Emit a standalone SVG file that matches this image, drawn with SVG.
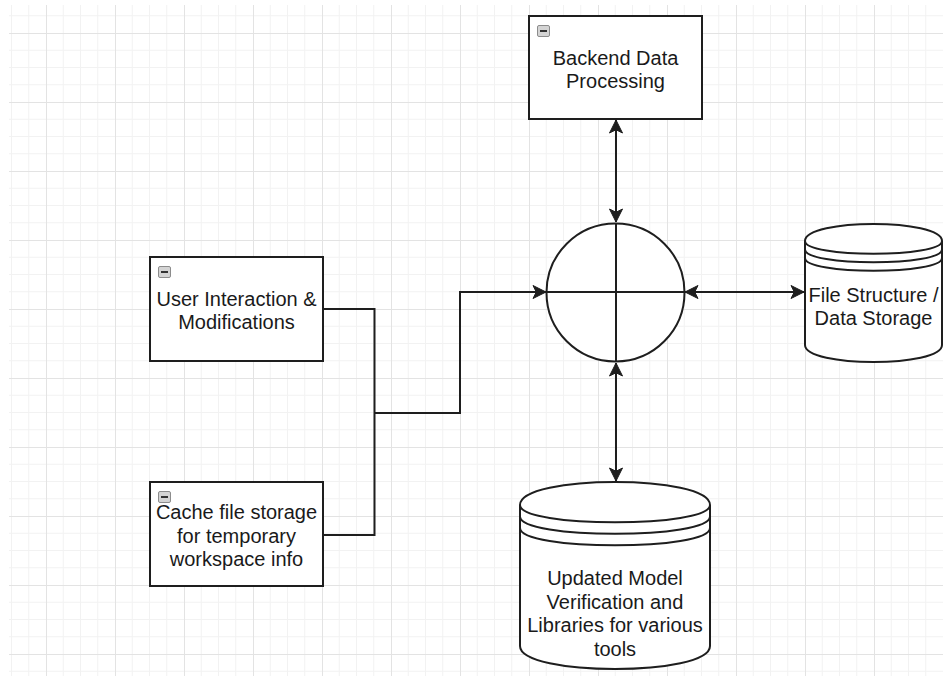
<svg xmlns="http://www.w3.org/2000/svg" width="943" height="676" viewBox="0 0 943 676">
  <style>
    .box { fill: #ffffff; stroke: #1e1e1e; stroke-width: 2; }
    .shape { fill: #ffffff; stroke: #1e1e1e; stroke-width: 2; }
    .inner { fill: none; stroke: #1e1e1e; stroke-width: 2; }
    .edge { fill: none; stroke: #1e1e1e; stroke-width: 2; }
    .lbl { font-family: "Liberation Sans", Arial, Helvetica, sans-serif; font-size: 20px; fill: #1a1a1a; text-anchor: middle; }
    .icon { fill: #d4d4d4; stroke: #8c8c8c; stroke-width: 1; }
    .iconbar { stroke: #333333; stroke-width: 2; }
  </style>
  <defs>
    <pattern id="grid" patternUnits="userSpaceOnUse" x="-23" y="-36" width="69" height="69">
      <path d="M17.25,0 V69 M34.5,0 V69 M51.75,0 V69 M0,17.25 H69 M0,34.5 H69 M0,51.75 H69" stroke="#f2f2f2" stroke-width="1" fill="none"/>
      <path d="M0.5,0 V69 M0,0.5 H69" stroke="#e3e3e3" stroke-width="1" fill="none"/>
    </pattern>
    <marker id="arrow" markerUnits="userSpaceOnUse" viewBox="-14 -8 16 16" refX="0" refY="0" markerWidth="16" markerHeight="16" orient="auto-start-reverse">
      <path d="M0,0 L-13,-6.5 L-9.75,0 L-13,6.5 Z" fill="#1e1e1e" stroke="#1e1e1e" stroke-width="1" stroke-linejoin="miter"/>
    </marker>
  </defs>

  <rect x="0" y="0" width="943" height="676" fill="#ffffff"/>
  <rect x="9" y="5" width="934" height="671" fill="url(#grid)"/>

  <g id="connectors">
    <line class="edge" x1="616" y1="120" x2="616" y2="222" marker-start="url(#arrow)" marker-end="url(#arrow)"/>
    <line class="edge" x1="685" y1="292" x2="804" y2="292" marker-start="url(#arrow)" marker-end="url(#arrow)"/>
    <line class="edge" x1="616" y1="363" x2="616" y2="481" marker-start="url(#arrow)" marker-end="url(#arrow)"/>
    <polyline class="edge" points="323,309 374.5,309 374.5,535 323,535"/>
    <polyline class="edge" points="374.5,413 460,413 460,292 546,292" marker-end="url(#arrow)"/>
  </g>

  <g id="backend">
    <rect class="box" x="529" y="16" width="173" height="103"/>
    <rect class="icon" x="537.5" y="25.5" width="12" height="11" rx="1.5"/>
    <line class="iconbar" x1="540" y1="31" x2="547" y2="31"/>
    <text class="lbl" x="615.5" y="65">Backend Data</text>
    <text class="lbl" x="615.5" y="88">Processing</text>
  </g>

  <g id="user">
    <rect class="box" x="150" y="257" width="173" height="104"/>
    <rect class="icon" x="158.5" y="266.5" width="12" height="11" rx="1.5"/>
    <line class="iconbar" x1="161" y1="272" x2="168" y2="272"/>
    <text class="lbl" x="236.5" y="306">User Interaction &amp;</text>
    <text class="lbl" x="236.5" y="329">Modifications</text>
  </g>

  <g id="cache">
    <rect class="box" x="150" y="482" width="173" height="104"/>
    <rect class="icon" x="158.5" y="491.5" width="12" height="11" rx="1.5"/>
    <line class="iconbar" x1="161" y1="497" x2="168" y2="497"/>
    <text class="lbl" x="236.5" y="519">Cache file storage</text>
    <text class="lbl" x="236.5" y="542.5">for temporary</text>
    <text class="lbl" x="236.5" y="566">workspace info</text>
  </g>

  <g id="junction">
    <circle class="shape" cx="615.5" cy="292.5" r="69"/>
    <line class="inner" x1="546.5" y1="292" x2="684.5" y2="292"/>
    <line class="inner" x1="616" y1="223.5" x2="616" y2="361.5"/>
  </g>

  <g id="filestore">
    <path class="shape" d="M805,241 C805,218.33 942,218.33 942,241 L942,345 C942,367.67 805,367.67 805,345 Z"/>
    <path class="inner" d="M805,241 C805,258 942,258 942,241 M805,249.5 C805,266.5 942,266.5 942,249.5 M805,258 C805,275 942,275 942,258"/>
    <text class="lbl" x="873.5" y="302">File Structure /</text>
    <text class="lbl" x="873.5" y="325">Data Storage</text>
  </g>

  <g id="models">
    <path class="shape" d="M520,505 C520,474.33 710,474.33 710,505 L710,646 C710,676.67 520,676.67 520,646 Z"/>
    <path class="inner" d="M520,505 C520,528 710,528 710,505 M520,516.5 C520,539.5 710,539.5 710,516.5 M520,528 C520,551 710,551 710,528"/>
    <text class="lbl" x="615" y="585">Updated Model</text>
    <text class="lbl" x="615" y="608.5">Verification and</text>
    <text class="lbl" x="615" y="632">Libraries for various</text>
    <text class="lbl" x="615" y="655.5">tools</text>
  </g>
</svg>
